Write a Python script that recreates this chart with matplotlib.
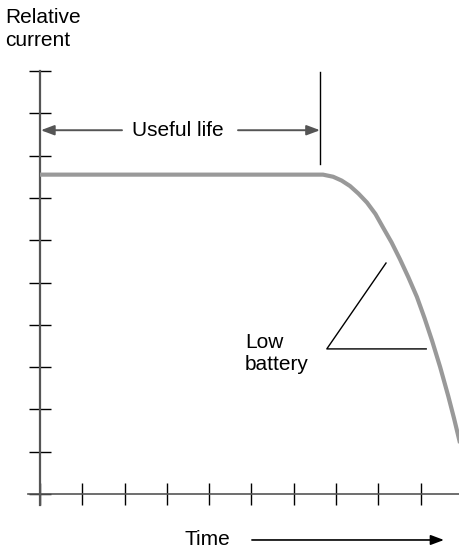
import matplotlib
matplotlib.use("Agg")
import matplotlib.pyplot as plt

plt.rcParams['font.family'] = ['Liberation Sans', 'DejaVu Sans']

# battery discharge curve (time in tick units, relative current in tick units)
time_pts = [0.0, 6.69, 6.93, 7.13, 7.33, 7.53, 7.73, 7.93, 8.11, 8.31,
            8.51, 8.71, 8.91, 9.09, 9.27, 9.46, 9.65, 9.79, 9.93]
current_pts = [7.55, 7.55, 7.50, 7.41, 7.28, 7.10, 6.89, 6.62, 6.30, 5.95,
               5.55, 5.12, 4.66, 4.16, 3.62, 3.00, 2.32, 1.78, 1.20]

x_ticks = list(range(0, 10))
y_ticks = list(range(0, 11))

end_of_life = 6.62          # where the useful life ends
useful_life_level = 8.60
low_batt_tip = (8.18, 5.46)
low_batt_corner = (6.78, 3.43)
low_batt_end = (9.13, 3.43)

fig = plt.figure(figsize=(4.6, 5.5), dpi=100)
ax = fig.add_axes([0, 0, 1, 1])
unit = 42.3
ax.set_xlim(-40 / unit, 420 / unit)
ax.set_ylim(-56 / unit, 494 / unit)

for side in ('top', 'right'):
    ax.spines[side].set_visible(False)
ax.spines['left'].set_position(('data', 0))
ax.spines['bottom'].set_position(('data', 0))
ax.spines['left'].set_bounds(-0.27, 10)
ax.spines['bottom'].set_bounds(-0.28, 420 / unit)
ax.spines['left'].set_color('#555555')
ax.spines['left'].set_linewidth(1.6)
ax.spines['bottom'].set_color('#555555')
ax.spines['bottom'].set_linewidth(1.2)

ax.set_xticks(x_ticks)
ax.set_yticks(y_ticks)
ax.set_xticklabels([])
ax.set_yticklabels([])
ax.tick_params(direction='inout', length=16.5, width=1.0, color='black')

ax.plot(time_pts, current_pts, color='#999999', lw=3.0, solid_capstyle='butt',
        solid_joinstyle='round', zorder=3)

# end of useful life marker
ax.plot([end_of_life, end_of_life], [7.80, 9.98], color='black', lw=1.0)

arrow_kw = dict(arrowstyle='-|>,head_length=0.8,head_width=0.3', color='#555555',
                lw=1.4, shrinkA=0, shrinkB=0)
ax.annotate('', xy=(0.02, useful_life_level), xytext=(82 / unit, useful_life_level),
            arrowprops=arrow_kw)
ax.annotate('', xy=(end_of_life, useful_life_level), xytext=(198 / unit, useful_life_level),
            arrowprops=arrow_kw)
ax.text(138 / unit, useful_life_level, 'Useful life', ha='center', va='center',
        fontsize=15)

# low battery callout
ax.plot([low_batt_tip[0], low_batt_corner[0], low_batt_end[0]],
        [low_batt_tip[1], low_batt_corner[1], low_batt_end[1]], color='black', lw=1.0)
ax.text(205 / unit, 3.32, 'Low\nbattery', ha='left', va='center', fontsize=15,
        linespacing=1.2)

# axis captions
fig.text(5 / 460, 1 - 8 / 550, 'Relative\ncurrent', ha='left', va='top', fontsize=15,
         linespacing=1.3)
ax.text(4.49, -1.087, 'Time', ha='right', va='center', fontsize=15)
ax.annotate('', xy=(9.55, -1.087), xytext=(5.01, -1.087),
            arrowprops=dict(arrowstyle='-|>,head_length=0.8,head_width=0.3', color='black',
                            lw=1.2, shrinkA=0, shrinkB=0))

fig.savefig('out.png', dpi=100)
